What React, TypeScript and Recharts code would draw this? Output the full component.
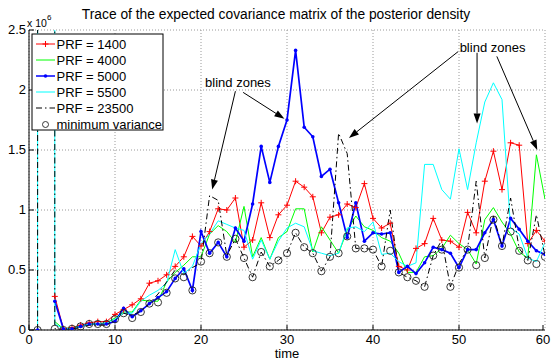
import React from "react"
import { LineChart, Line, XAxis, YAxis, CartesianGrid, ReferenceLine, ReferenceDot } from "recharts"

// time steps 1..60
const time = [
  1, 2, 3, 4, 5, 6, 7, 8, 9, 10, 11, 12, 13, 14, 15, 16, 17, 18, 19, 20,
  21, 22, 23, 24, 25, 26, 27, 28, 29, 30, 31, 32, 33, 34, 35, 36, 37, 38, 39, 40,
  41, 42, 43, 44, 45, 46, 47, 48, 49, 50, 51, 52, 53, 54, 55, 56, 57, 58, 59, 60,
]

// values in units of 10^6 (1000 = far above the axis)
const prf1400 = [
  null, null, 0.28, 0.01, 0.02, 0.04, 0.06, 0.07, 0.07, 0.13, 0.17, 0.21, 0.26, 0.39, 0.41, 0.46, 0.53, 0.61, 0.78, 0.7,
  0.82, 1.01, 1.0, 1.1, 0.69, 0.75, 1.06, 0.77, 0.96, 1.04, 1.24, 1.19, 1.11, 0.81, 0.94, 0.96, 1.05, 1.02, 1.22, 0.93,
  0.85, 0.89, 0.53, 0.5, 0.68, 0.72, 0.93, 0.75, 0.74, 0.69, 0.98, 0.81, 1.24, 1.49, 1.17, 1.56, 1.54, 0.72, 0.83, 0.74,
]
const prf4000 = [
  null, null, 0.07, 0.01, 0.02, 0.03, 0.05, 0.05, 0.06, 0.1, 0.15, 0.15, 0.25, 0.24, 0.24, 0.4, 0.48, 0.54, 0.61, 0.61,
  0.8, 0.87, 0.82, 0.73, 1.03, 0.61, 0.77, 0.59, 0.77, 0.82, 1.01, 1.01, 0.65, 0.86, 0.75, 0.64, 0.83, 0.95, 0.86, 0.83,
  0.77, 0.74, 0.64, 0.48, 0.48, 0.61, 0.62, 0.68, 0.79, 0.72, 0.67, 0.55, 0.92, 1.02, 0.9, 0.8, 0.65, 0.6, 1.46, 1.09,
]
const prf5000 = [
  0, null, 0.24, 0.01, 0.01, 0.03, 0.05, 0.05, 0.05, 0.07, 0.18, 0.11, 0.16, 0.22, 0.27, 0.32, 0.43, 0.51, 0.33, 0.82,
  0.64, 0.73, 0.61, 0.85, 0.74, 1.05, 1.53, 1.23, 1.53, 1.75, 2.33, 1.69, 1.61, 1.28, 1.34, 1.06, 0.77, 1.06, 0.74, 0.81,
  0.8, 0.81, 0.48, 0.53, 0.47, 0.56, 0.69, 0.67, 0.64, 0.52, 0.67, 0.67, 0.81, 0.92, 0.7, 0.93, 0.84, 0.74, 0.66, 0.63,
]
const prf5500 = [
  0, 1000, 0.05, 0.01, 0.01, 0.03, 0.05, 0.05, 0.06, 0.09, 0.14, 0.14, 0.24, 0.29, 0.33, 0.39, 0.67, 0.47, 0.53, 0.72,
  0.8, 0.91, 0.88, 0.85, 0.83, 0.59, 0.75, 0.59, 0.74, 0.85, 0.89, 0.86, 0.66, 0.64, 0.62, 0.64, 0.85, 0.86, 0.82, 0.9,
  0.63, 0.64, 0.57, 0.53, 0.56, 1.38, 1.38, 1.17, 1.09, 1.51, 1.17, 1.56, 1.9, 2.06, 1.92, 0.85, 0.8, 0.6, 0.57, 0.73,
]
const prf23500 = [
  0, 1000, 0.01, 0.005, 0.01, 0.02, 0.04, 0.04, 0.04, 0.08, 0.14, 0.12, 0.16, 0.22, 0.3, 0.4, 0.5, 0.46, 0.52, 0.56,
  1.12, 1.08, 0.62, 0.76, 0.6, 0.44, 0.65, 0.53, 0.58, 0.64, 0.81, 0.69, 0.64, 0.49, 0.61, 1.64, 1.47, 0.68, 0.68, 0.67,
  0.53, 1.0, 0.48, 0.44, 0.41, 0.36, 0.62, 0.75, 0.36, 0.55, 0.68, 1.24, 0.6, 0.95, 0.7, 1.1, 0.68, 0.58, 0.96, 0.62,
]
const minVariance = [
  0, null, 0.01, 0.0, 0.01, 0.03, 0.05, 0.05, 0.05, 0.09, 0.14, 0.1, 0.15, 0.22, 0.23, 0.31, 0.43, 0.44, 0.33, 0.57,
  0.64, 0.73, 0.61, 0.76, 0.6, 0.44, 0.65, 0.53, 0.58, 0.64, 0.81, 0.69, 0.64, 0.49, 0.61, 0.64, 0.78, 0.68, 0.68, 0.67,
  0.53, 0.66, 0.48, 0.44, 0.41, 0.36, 0.62, 0.67, 0.36, 0.52, 0.67, 0.54, 0.6, 0.92, 0.7, 0.82, 0.66, 0.58, 0.55, 0.61,
]

const xTicks = [0, 10, 20, 30, 40, 50, 60]
const yTicks = [0, 0.5, 1, 1.5, 2, 2.5]

const legendNames = ["PRF = 1400", "PRF = 4000", "PRF = 5000", "PRF = 5500", "PRF = 23500", "minimum variance"]

// annotations: label positions and arrows [from, to] in data units
const blindLabels = [
  { t: 24.3, v: 2.07 },
  { t: 53.9, v: 2.36 },
]
const blindArrows = [
  [{ t: 24.0, v: 1.99 }, { t: 21.3, v: 1.17 }],
  [{ t: 24.9, v: 1.98 }, { t: 29.7, v: 1.76 }],
  [{ t: 49.9, v: 2.32 }, { t: 37.2, v: 1.6 }],
  [{ t: 52.1, v: 2.31 }, { t: 52.1, v: 1.72 }],
  [{ t: 54.4, v: 2.28 }, { t: 59.1, v: 1.5 }],
]

const data = time.map((t, i) => ({
  t,
  r: prf1400[i],
  g: prf4000[i],
  b: prf5000[i],
  c: prf5500[i],
  k: prf23500[i],
  m: minVariance[i],
}))

const FONT = "'Liberation Sans', Arial, Helvetica, sans-serif"

const PlusDot = (p: any) => {
  const { cx, cy, index } = p
  if (cx == null || cy == null || isNaN(cy)) return <g key={"p" + index} />
  return (
    <path
      key={"p" + index}
      d={`M${cx - 3},${cy}H${cx + 3}M${cx},${cy - 3}V${cy + 3}`}
      stroke="#ff0000"
      strokeWidth={1}
    />
  )
}

const SmallDot = (p: any) => {
  const { cx, cy, index } = p
  if (cx == null || cy == null || isNaN(cy)) return <g key={"s" + index} />
  return <circle key={"s" + index} cx={cx} cy={cy} r={1.8} fill="#0000ff" />
}

const RingDot = (p: any) => {
  const { cx, cy, index } = p
  if (cx == null || cy == null || isNaN(cy)) return <g key={"o" + index} />
  return <circle key={"o" + index} cx={cx} cy={cy} r={3.6} fill="none" stroke="#222" strokeWidth={0.9} />
}

const BottomTick = (p: any) => (
  <g>
    <line x1={p.x} y1={p.y} x2={p.x} y2={p.y - 5} stroke="#000" />
    <text x={p.x} y={p.y + 14} textAnchor="middle" fontSize={13} fontFamily={FONT} fill="#000">
      {p.payload.value}
    </text>
  </g>
)
const LeftTick = (p: any) => (
  <g>
    <line x1={p.x} y1={p.y} x2={p.x + 5} y2={p.y} stroke="#000" />
    <text x={p.x - 3} y={p.y + 4} textAnchor="end" fontSize={13} fontFamily={FONT} fill="#000">
      {p.payload.value}
    </text>
  </g>
)
const TopTick = (p: any) => <line x1={p.x} y1={p.y} x2={p.x} y2={p.y + 5} stroke="#000" />
const RightTick = (p: any) => <line x1={p.x} y1={p.y} x2={p.x - 5} y2={p.y} stroke="#000" />

const Arrow = (p: any) => {
  const { x1, y1, x2, y2 } = p
  const a = Math.atan2(y2 - y1, x2 - x1)
  const L = 10
  const W = 3.5
  const bx = x2 - L * Math.cos(a)
  const by = y2 - L * Math.sin(a)
  const pts = `${x2},${y2} ${bx + W * Math.sin(a)},${by - W * Math.cos(a)} ${bx - W * Math.sin(a)},${by + W * Math.cos(a)}`
  return (
    <g>
      <line x1={x1} y1={y1} x2={bx} y2={by} stroke="#000" strokeWidth={1} />
      <polygon points={pts} fill="#000" />
    </g>
  )
}

const BlindText = (p: any) => (
  <text x={p.cx} y={p.cy + 5} textAnchor="middle" fontSize={13} fontFamily={FONT} fill="#000">
    blind zones
  </text>
)

function LegendBox() {
  const rowY = [44, 60, 76, 92, 108, 124.5]
  return (
    <g>
      <rect x={32} y={34} width={131} height={96} fill="#fff" stroke="#000" strokeWidth={1} />
      <line x1={36} x2={55} y1={rowY[0]} y2={rowY[0]} stroke="#ff0000" />
      <path d={`M42.5,${rowY[0]}H48.5M45.5,${rowY[0] - 3}V${rowY[0] + 3}`} stroke="#ff0000" />
      <line x1={36} x2={55} y1={rowY[1]} y2={rowY[1]} stroke="#00ff00" />
      <line x1={36} x2={55} y1={rowY[2]} y2={rowY[2]} stroke="#0000ff" strokeWidth={1.5} />
      <circle cx={45.5} cy={rowY[2]} r={1.8} fill="#0000ff" />
      <line x1={36} x2={55} y1={rowY[3]} y2={rowY[3]} stroke="#00ffff" />
      <line x1={36} x2={55} y1={rowY[4]} y2={rowY[4]} stroke="#000" strokeDasharray="6 3 1.5 3" />
      <circle cx={45.5} cy={rowY[5]} r={3} fill="none" stroke="#222" strokeWidth={0.9} />
      {legendNames.map((n, i) => (
        <text key={n} x={56.5} y={rowY[i] + 4.5} fontSize={13} fontFamily={FONT} fill="#000">
          {n}
        </text>
      ))}
    </g>
  )
}

export default function App() {
  return (
    <div style={{ position: "relative", width: 551, height: 360, background: "#fff" }}>
      <style>{`body{margin:0;background:#fff}`}</style>
      <LineChart width={551} height={360} data={data} margin={{ top: 30, right: 6, bottom: 0, left: 0 }}>
        <CartesianGrid stroke="#9a9a9a" strokeDasharray="1 2" strokeWidth={1} />
        <XAxis
          dataKey="t"
          type="number"
          domain={[0, 60]}
          ticks={xTicks}
          allowDataOverflow
          height={30}
          tickSize={0}
          tickMargin={0}
          tickLine={false}
          axisLine={{ stroke: "#000" }}
          tick={BottomTick}
        />
        <XAxis
          xAxisId="top"
          orientation="top"
          dataKey="t"
          type="number"
          domain={[0, 60]}
          ticks={xTicks}
          allowDataOverflow
          height={0}
          tickSize={0}
          tickMargin={0}
          tickLine={false}
          axisLine={{ stroke: "#000" }}
          tick={TopTick}
        />
        <YAxis
          type="number"
          domain={[0, 2.5]}
          ticks={yTicks}
          allowDataOverflow
          width={29}
          tickSize={0}
          tickMargin={0}
          tickLine={false}
          axisLine={{ stroke: "#000" }}
          tick={LeftTick}
        />
        <YAxis
          yAxisId="right"
          orientation="right"
          type="number"
          domain={[0, 2.5]}
          ticks={yTicks}
          allowDataOverflow
          width={0}
          tickSize={0}
          tickMargin={0}
          tickLine={false}
          axisLine={{ stroke: "#000" }}
          tick={RightTick}
        />
        <Line dataKey="r" stroke="#ff0000" strokeWidth={1} dot={PlusDot} isAnimationActive={false} />
        <Line dataKey="g" stroke="#00ff00" strokeWidth={1} dot={false} isAnimationActive={false} />
        <Line dataKey="b" stroke="#0000ff" strokeWidth={1.7} dot={SmallDot} isAnimationActive={false} />
        <Line dataKey="c" stroke="#00ffff" strokeWidth={1} dot={false} isAnimationActive={false} />
        <Line
          dataKey="k"
          stroke="#000"
          strokeWidth={1}
          strokeDasharray="6 3 1.5 3"
          dot={false}
          isAnimationActive={false}
        />
        <Line dataKey="m" stroke="none" dot={RingDot} isAnimationActive={false} />
        {blindArrows.map((a, i) => (
          <ReferenceLine
            key={"a" + i}
            segment={[
              { x: a[0].t, y: a[0].v },
              { x: a[1].t, y: a[1].v },
            ]}
            ifOverflow="visible"
            shape={Arrow}
          />
        ))}
        {blindLabels.map((l, i) => (
          <ReferenceDot key={"l" + i} x={l.t} y={l.v} r={1} ifOverflow="visible" shape={BlindText} />
        ))}
      </LineChart>
      <svg width={551} height={360} style={{ position: "absolute", left: 0, top: 0, pointerEvents: "none" }}>
        <text x={276} y={19} textAnchor="middle" fontSize={13.8} fontFamily={FONT} fill="#000">
          Trace of the expected covariance matrix of the posterior density
        </text>
        <text x={27} y={27} fontSize={10.5} fontFamily={FONT} fill="#000">
          x 10
        </text>
        <text x={47} y={20} fontSize={8} fontFamily={FONT} fill="#000">
          6
        </text>
        <text x={287} y={358} textAnchor="middle" fontSize={13} fontFamily={FONT} fill="#000">
          time
        </text>
        <LegendBox />
      </svg>
    </div>
  )
}
